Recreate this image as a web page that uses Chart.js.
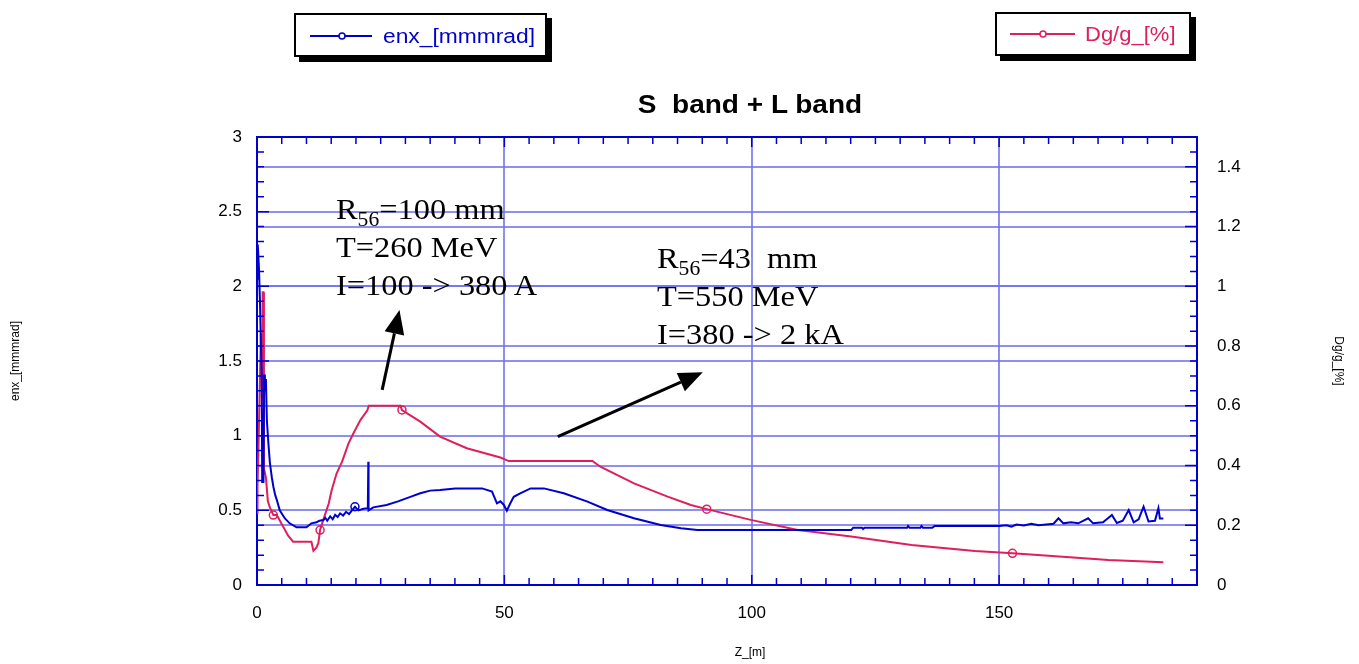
<!DOCTYPE html>
<html><head><meta charset="utf-8">
<script src="https://cdn.jsdelivr.net/npm/chart.js@4/dist/chart.umd.min.js"></script>
<style>
html,body{margin:0;padding:0;background:#fff;}
#wrap{position:relative;width:1359px;height:664px;overflow:hidden;font-family:"Liberation Sans",Arial,sans-serif;}
#c{position:absolute;left:0;top:0;}
.lg{position:absolute;border:2px solid #000;background:#fff;box-shadow:5px 5px 0 #000;box-sizing:border-box;}
.lg svg{position:absolute;left:0;top:0;}
.lg span{position:absolute;font-size:20px;white-space:nowrap;line-height:20px;transform-origin:0 50%;}
.ann{position:absolute;font-family:"Liberation Serif","Times New Roman",serif;font-size:30px;line-height:38px;color:#000;white-space:nowrap;transform:scaleX(1.08);transform-origin:0 0;}
.ann sub{font-size:20px;vertical-align:-7px;line-height:0;}
#title{position:absolute;top:90px;left:750px;transform:translateX(-50%) scaleX(1.12);font-weight:bold;font-size:25px;white-space:nowrap;}
#xtitle{position:absolute;top:645px;left:750px;transform:translateX(-50%);font-size:12px;white-space:nowrap;}
</style>
</head><body>
<div id="wrap">
<canvas id="c" width="1359" height="664"></canvas>
<div class="lg" style="left:294px;top:13px;width:253px;height:44px;">
  <svg width="253" height="44"><line x1="14" y1="21" x2="76" y2="21" stroke="#0000cc" stroke-width="2"/><circle cx="46" cy="21" r="3" fill="#fff" stroke="#0000cc" stroke-width="1.5"/></svg>
  <span style="left:87px;top:11px;color:#0000cc;transform:scaleX(1.14);">enx_[mmmrad]</span>
</div>
<div class="lg" style="left:995px;top:12px;width:196px;height:44px;">
  <svg width="196" height="44"><line x1="13" y1="20" x2="78" y2="20" stroke="#e01e5a" stroke-width="2"/><circle cx="46" cy="20" r="3" fill="#fff" stroke="#e01e5a" stroke-width="1.5"/></svg>
  <span style="left:88px;top:10px;color:#e01e5a;transform:scaleX(1.1);">Dg/g_[%]</span>
</div>
<div id="title">S&nbsp;&nbsp;band + L band</div>
<div id="xtitle">Z_[m]</div>
<div class="ann" style="left:336px;top:190px;">R<sub>56</sub>=100 mm<br>T=260 MeV<br>I=100 -&gt; 380 A</div>
<div class="ann" style="left:657px;top:239px;">R<sub>56</sub>=43&nbsp; mm<br>T=550 MeV<br>I=380 -&gt; 2 kA</div>
</div>
<script>
// ---- data ----
const zEnx = [0.0,0.15,0.4,0.6,0.8,0.95,1.05,1.3,1.45,1.6,1.8,2.0,2.3,2.6,3.0,3.3,3.7,4.0,4.6,5.6,6.6,8.0,10.0,11.0,12.0,12.6,13.4,13.8,14.2,14.8,15.3,15.8,16.3,16.8,17.4,18.0,18.6,19.2,19.8,20.5,21.5,22.4,22.5,22.55,23.5,26.2,28.5,31.0,33.0,35.0,37.0,40.1,45.5,47.5,48.5,49.2,49.9,50.5,51.2,51.9,53.2,55.3,58.0,62.0,66.8,70.8,76.2,81.6,85.7,89.0,120.1,120.5,122.3,122.5,122.8,131.4,131.6,131.9,134.1,134.3,134.6,136.5,137.0,150.0,151.5,152.5,153.5,155,156.5,158,159.5,161,162.0,163,164.5,166,168.0,169,171,172.8,173.8,175,176.2,177.2,178.2,179.2,180.2,181.5,182.2,182.5,183.2];
const enx  = [2.05,2.28,2.12,1.9,1.6,1.41,0.69,0.69,1.41,1.3,1.38,1.1,0.95,0.82,0.72,0.66,0.6,0.57,0.50,0.447,0.413,0.386,0.386,0.413,0.42,0.43,0.435,0.45,0.43,0.46,0.44,0.47,0.455,0.48,0.465,0.49,0.475,0.50,0.524,0.50,0.51,0.514,0.826,0.50,0.52,0.536,0.56,0.59,0.614,0.632,0.636,0.647,0.647,0.625,0.547,0.56,0.536,0.498,0.547,0.591,0.614,0.647,0.647,0.614,0.558,0.502,0.447,0.402,0.380,0.368,0.368,0.384,0.384,0.375,0.384,0.384,0.395,0.384,0.384,0.395,0.384,0.384,0.395,0.395,0.40,0.39,0.405,0.398,0.41,0.40,0.405,0.41,0.447,0.413,0.42,0.413,0.447,0.413,0.42,0.469,0.415,0.43,0.502,0.42,0.44,0.524,0.425,0.43,0.514,0.445,0.445];
const enxMarkerZ = [19.8];

const zDg = [0.0,0.1,0.35,0.6,0.8,1.0,1.05,1.15,1.3,1.4,1.8,2.2,2.6,3.3,4.0,5.3,6.3,7.3,11.0,11.4,12.0,12.4,12.75,13.4,14.5,15.1,16.1,17.2,18.5,19.5,20.9,22.3,22.6,29.0,29.3,33.0,37.0,42.4,49.2,50.9,67.8,69.4,76.2,83.0,87.7,90.9,99.8,109.3,120.1,132.3,145.1,152.7,160.0,172.1,183.2];
const dg  = [0.24,0.33,0.5,0.69,0.84,0.80,0.62,0.98,0.98,0.39,0.36,0.28,0.26,0.234,0.234,0.195,0.165,0.145,0.145,0.115,0.125,0.14,0.184,0.218,0.273,0.318,0.374,0.413,0.474,0.508,0.552,0.585,0.60,0.60,0.586,0.547,0.497,0.458,0.427,0.415,0.415,0.396,0.340,0.296,0.268,0.254,0.218,0.184,0.162,0.134,0.114,0.106,0.098,0.084,0.076];
const dgMarkerZ = [3.3,12.75,29.3,90.9,152.7];

const xTicks = {min:0, max:190, step:50, minor:5};
const yTicks = {min:0, max:3, step:0.5, minor:0.1};
const y1Ticks = {min:0, max:1.5, step:0.2, minor:0.05};

// arrows in (Z, enx-axis) data coordinates: [tailZ, tailY, tipZ, tipY]
const arrows = [[25.3,1.307,28.8,1.842],[60.8,0.993,90.1,1.424]];

// ---- styles ----
const BLUE = '#0000cc';
const RED = '#e01e5a';
const GRID = 'rgba(115,115,238,0.8)';
const tickFont = {family:'"Liberation Sans", Arial, sans-serif', size:17};
const fmt = (v) => String(Number(Number(v).toFixed(3)));

const decor = {
  id:'decor',
  afterDraw(chart){
    const {ctx, chartArea:a, scales:{x,y,y1}} = chart;
    ctx.save();
    ctx.strokeStyle = BLUE;
    ctx.lineWidth = 2;
    ctx.beginPath(); ctx.moveTo(a.left, a.top); ctx.lineTo(a.right, a.top); ctx.stroke();
    ctx.lineWidth = 1.5;
    ctx.beginPath();
    const nx = Math.round((xTicks.max - xTicks.min)/xTicks.minor);
    for (let i=0;i<=nx;i++){
      const v = xTicks.min + i*xTicks.minor;
      const p = x.getPixelForValue(v);
      const len = (Math.abs(v % xTicks.step) < 1e-6) ? 10 : 7;
      ctx.moveTo(p, a.bottom); ctx.lineTo(p, a.bottom-len);
      ctx.moveTo(p, a.top); ctx.lineTo(p, a.top+len);
    }
    const ny = Math.round((yTicks.max-yTicks.min)/yTicks.minor);
    for (let i=0;i<=ny;i++){
      const p = y.getPixelForValue(yTicks.min + i*yTicks.minor);
      const len = (i % 5 === 0) ? 12 : 7;
      ctx.moveTo(a.left, p); ctx.lineTo(a.left+len, p);
    }
    const ny1 = Math.round((y1Ticks.max-y1Ticks.min)/y1Ticks.minor);
    for (let i=0;i<=ny1;i++){
      const p = y1.getPixelForValue(y1Ticks.min + i*y1Ticks.minor);
      const len = (i % 4 === 0) ? 12 : 7;
      ctx.moveTo(a.right, p); ctx.lineTo(a.right-len, p);
    }
    ctx.stroke();
    // arrows
    ctx.strokeStyle = '#000'; ctx.fillStyle = '#000'; ctx.lineWidth = 3;
    arrows.forEach(([tz,ty,hz,hy])=>{
      const x0 = x.getPixelForValue(tz), y0 = y.getPixelForValue(ty);
      const x1 = x.getPixelForValue(hz), y1p = y.getPixelForValue(hy);
      const ang = Math.atan2(y1p-y0, x1-x0);
      const L = 24, W = 10;
      const bx = x1 - L*Math.cos(ang), by = y1p - L*Math.sin(ang);
      ctx.beginPath(); ctx.moveTo(x0,y0); ctx.lineTo(bx,by); ctx.stroke();
      ctx.beginPath();
      ctx.moveTo(x1,y1p);
      ctx.lineTo(bx + W*Math.sin(ang), by - W*Math.cos(ang));
      ctx.lineTo(bx - W*Math.sin(ang), by + W*Math.cos(ang));
      ctx.closePath(); ctx.fill();
    });
    ctx.restore();
  }
};

function markerRadius(list){
  return (c) => (c.raw && list.some(z => Math.abs(z - c.raw.x) < 1e-6)) ? 4 : 0;
}

new Chart(document.getElementById('c'), {
  type:'line',
  data:{
    datasets:[
      {label:'enx_[mmmrad]', data: zEnx.map((z,i)=>({x:z,y:enx[i]})), yAxisID:'y',
       borderColor:BLUE, backgroundColor:'rgba(0,0,0,0)', borderWidth:2, tension:0,
       pointRadius: markerRadius(enxMarkerZ), pointBorderColor:BLUE, pointBackgroundColor:'rgba(0,0,0,0)', pointBorderWidth:1.5},
      {label:'Dg/g_[%]', data: zDg.map((z,i)=>({x:z,y:dg[i]})), yAxisID:'y1',
       borderColor:RED, backgroundColor:'rgba(0,0,0,0)', borderWidth:2, tension:0,
       pointRadius: markerRadius(dgMarkerZ), pointBorderColor:RED, pointBackgroundColor:'rgba(0,0,0,0)', pointBorderWidth:1.5}
    ]
  },
  options:{
    responsive:false, animation:false, devicePixelRatio:1,
    layout:{padding:{top:137,left:0,right:0,bottom:0}},
    plugins:{legend:{display:false}, tooltip:{enabled:false}, title:{display:false}},
    scales:{
      x:{type:'linear', position:'bottom', min:xTicks.min, max:xTicks.max,
         ticks:{stepSize:xTicks.step, includeBounds:false, color:'#000', font:tickFont, padding:18, maxRotation:0, autoSkip:false, callback:fmt},
         grid:{color:GRID, lineWidth:2, drawTicks:false, tickLength:0},
         border:{color:BLUE, width:2},
         afterFit:(s)=>{ s.height = 79; }},
      y:{type:'linear', position:'left', min:yTicks.min, max:yTicks.max,
         ticks:{stepSize:yTicks.step, color:'#000', font:tickFont, padding:15, autoSkip:false, callback:fmt},
         grid:{color:GRID, lineWidth:2, drawTicks:false, tickLength:0},
         border:{color:BLUE, width:2},
         title:{display:true, text:'enx_[mmmrad]', color:'#000', font:{family:'"Liberation Sans", Arial, sans-serif', size:12}, padding:{top:8,bottom:0}},
         afterFit:(s)=>{ s.width = 257; }},
      y1:{type:'linear', position:'right', min:y1Ticks.min, max:y1Ticks.max,
         ticks:{stepSize:y1Ticks.step, includeBounds:false, color:'#000', font:tickFont, padding:20, autoSkip:false, callback:fmt},
         grid:{color:GRID, lineWidth:2, drawTicks:false, tickLength:0, drawOnChartArea:true},
         border:{color:BLUE, width:2},
         title:{display:true, text:'Dg/g_[%]', color:'#000', font:{family:'"Liberation Sans", Arial, sans-serif', size:12}, padding:{top:13,bottom:0}},
         afterFit:(s)=>{ s.width = 162; }}
    }
  },
  plugins:[decor]
});
</script>
</body></html>
